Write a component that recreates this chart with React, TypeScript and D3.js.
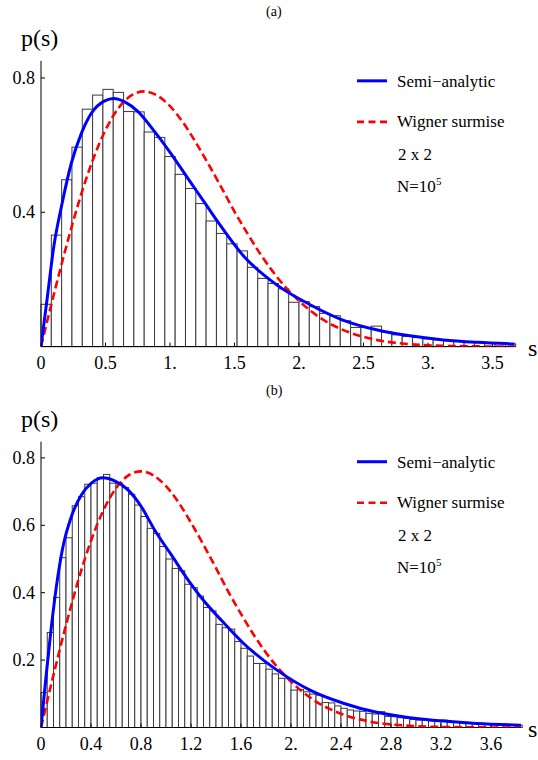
import * as d3 from "d3";

// panel (a): bins of 0.08
const binWidthA = 0.08;
const histA = [
  0.126, 0.332, 0.497, 0.594, 0.707, 0.749, 0.766, 0.757, 0.7, 0.699,
  0.639, 0.623, 0.566, 0.513, 0.471, 0.426, 0.374, 0.337, 0.306, 0.285,
  0.236, 0.203, 0.188, 0.172, 0.132, 0.134, 0.119, 0.099, 0.092, 0.077,
  0.057, 0.057, 0.061, 0.044, 0.035, 0.03, 0.027, 0.023, 0.02, 0.018,
  0.015, 0.013, 0.012, 0.01, 0.009, 0.008,
];
const semiSA = [0, 0.05, 0.1, 0.16, 0.235, 0.313, 0.39, 0.494, 0.566, 0.649, 0.752, 0.881, 1.01, 1.14, 1.27, 1.37, 1.57, 1.83, 2.09, 2.34, 2.6, 2.86, 3.12, 3.38, 3.67];
const semiPA = [0, 0.15, 0.3, 0.42, 0.546, 0.635, 0.695, 0.732, 0.739, 0.729, 0.7, 0.64, 0.573, 0.5, 0.428, 0.372, 0.27, 0.183, 0.124, 0.079, 0.05, 0.032, 0.02, 0.013, 0.008];
const xTicksA = [0, 0.5, 1, 1.5, 2, 2.5, 3, 3.5];
const xLabelsA = ["0", "0.5", "1.", "1.5", "2.", "2.5", "3.", "3.5"];
const yTicksA = [0.4, 0.8];
const yLabelsA = ["0.4", "0.8"];

// panel (b): bins of 0.05
const binWidthB = 0.05;
const histB = [
  0.104, 0.282, 0.386, 0.504, 0.563, 0.658, 0.685, 0.722, 0.725, 0.741,
  0.751, 0.725, 0.726, 0.712, 0.692, 0.66, 0.626, 0.591, 0.576, 0.537,
  0.5, 0.472, 0.465, 0.425, 0.415, 0.39, 0.356, 0.346, 0.306, 0.296,
  0.292, 0.255, 0.235, 0.212, 0.19, 0.19, 0.173, 0.159, 0.146, 0.146,
  0.111, 0.113, 0.106, 0.099, 0.096, 0.074, 0.073, 0.064, 0.057, 0.052,
  0.049, 0.048, 0.042, 0.04, 0.047, 0.033, 0.032, 0.029, 0.027, 0.024,
  0.022, 0.022, 0.02, 0.019, 0.022, 0.016, 0.015, 0.014, 0.013, 0.012,
  0.011, 0.011, 0.01, 0.009, 0.008, 0.008, 0.007,
];
const semiSB = [0, 0.043, 0.083, 0.123, 0.176, 0.243, 0.323, 0.403, 0.496, 0.589, 0.696, 0.803, 0.909, 1.043, 1.176, 1.309, 1.416, 1.619, 1.885, 2.152, 2.419, 2.685, 2.952, 3.219, 3.485, 3.84];
const semiPB = [0, 0.161, 0.299, 0.418, 0.537, 0.626, 0.69, 0.725, 0.741, 0.732, 0.705, 0.655, 0.586, 0.512, 0.438, 0.373, 0.329, 0.25, 0.171, 0.111, 0.072, 0.045, 0.029, 0.019, 0.012, 0.007];
const xTicksB = [0, 0.4, 0.8, 1.2, 1.6, 2, 2.4, 2.8, 3.2, 3.6];
const xLabelsB = ["0", "0.4", "0.8", "1.2", "1.6", "2.", "2.4", "2.8", "3.2", "3.6"];
const yTicksB = [0.2, 0.4, 0.6, 0.8];
const yLabelsB = ["0.2", "0.4", "0.6", "0.8"];

// Wigner surmise, same in both panels
const wignerS = [0, 0.1, 0.2, 0.3, 0.4, 0.5, 0.6, 0.7, 0.8, 0.9, 1.0, 1.1, 1.2, 1.3, 1.4, 1.5, 1.6, 1.7, 1.8, 1.9, 2.0, 2.2, 2.4, 2.6, 2.8, 3.0, 3.3, 3.6, 3.9];
const wignerP = [0, 0.156, 0.304, 0.439, 0.554, 0.645, 0.71, 0.748, 0.76, 0.748, 0.716, 0.668, 0.608, 0.542, 0.473, 0.402, 0.337, 0.276, 0.222, 0.175, 0.136, 0.077, 0.041, 0.02, 0.009, 0.004, 0.001, 0.0002, 0];

const legendLabels = ["Semi\u2212analytic", "Wigner surmise"];
const sizeNote = "2 x 2";

const FONT = "Liberation Serif, Tinos, Times New Roman, DejaVu Serif, serif";

type PanelProps = {
  id: string;
  title: string;
  top: number;
  hist: number[];
  binWidth: number;
  semiS: number[];
  semiP: number[];
  xTicks: number[];
  xLabels: string[];
  yTicks: number[];
  yLabels: string[];
  sMax: number;
  pMax: number;
  baseY: number;
  pxPerS: number;
  pxPerP: number;
};

function Panel(props: PanelProps) {
  const { id, title, top, hist, binWidth, semiS, semiP, xTicks, xLabels, yTicks, yLabels, sMax, pMax, baseY, pxPerS, pxPerP } = props;
  const x0 = 41;
  const x = d3.scaleLinear().domain([0, sMax]).range([x0, x0 + pxPerS * sMax]);
  const y = d3.scaleLinear().domain([0, pMax]).range([baseY, baseY - pxPerP * pMax]);

  const line = d3
    .line<[number, number]>()
    .x((d) => x(d[0]))
    .y((d) => y(d[1]))
    .curve(d3.curveMonotoneX);

  const semiPts = semiS.map((s, i) => [s, semiP[i]] as [number, number]);
  const wigPts = wignerS.map((s, i) => [s, wignerP[i]] as [number, number]);

  const legX = 357;
  const legY = y(pMax) + 20;
  const txt = { fontFamily: FONT };

  return (
    <g style={txt}>
      <defs>
        <clipPath id={id}>
          <rect x={x0} y={y(pMax) - 5} width={x(sMax) - x0} height={baseY - y(pMax) + 5} />
        </clipPath>
      </defs>
      <text x={266} y={top} fontSize={14} style={txt}>{title}</text>
      <text x={21} y={y(pMax) - 15} fontSize={24} style={txt}>p(s)</text>

      {/* histogram */}
      {hist.map((v, i) => (
        <rect
          key={i}
          x={x(i * binWidth)}
          y={y(v)}
          width={x((i + 1) * binWidth) - x(i * binWidth)}
          height={baseY - y(v)}
          fill="#fff"
          stroke="#3a3a3a"
          strokeWidth={1}
        />
      ))}

      {/* axes */}
      <line x1={x0} x2={x0} y1={y(pMax)} y2={baseY} stroke="#000" strokeWidth={1} />
      <line x1={x0} x2={x(sMax)} y1={baseY} y2={baseY} stroke="#000" strokeWidth={1} />
      {yTicks.map((t, i) => (
        <g key={"y" + i}>
          <line x1={x0} x2={x0 + 4} y1={y(t)} y2={y(t)} stroke="#000" />
          <text x={35} y={y(t) + 6} fontSize={18} textAnchor="end" style={txt}>{yLabels[i]}</text>
        </g>
      ))}
      {xTicks.map((t, i) => (
        <g key={"x" + i}>
          <line x1={x(t)} x2={x(t)} y1={baseY} y2={baseY - 4} stroke="#000" />
          <text x={x(t)} y={baseY + 22.5} fontSize={18} textAnchor="middle" style={txt}>{xLabels[i]}</text>
        </g>
      ))}
      <text x={528} y={baseY + 9} fontSize={24} style={txt}>s</text>

      {/* curves */}
      <g clipPath={`url(#${id})`}>
        <path d={line(wigPts) || ""} fill="none" stroke="#ff0000" strokeWidth={2.6} strokeDasharray="8,4" />
        <path d={line(semiPts) || ""} fill="none" stroke="#0000ff" strokeWidth={3} />
      </g>

      {/* legend */}
      <line x1={legX} x2={legX + 30} y1={legY} y2={legY} stroke="#0000ff" strokeWidth={3} />
      <text x={397} y={legY + 6} fontSize={17} style={txt}>{legendLabels[0]}</text>
      <line x1={legX} x2={legX + 30} y1={legY + 41} y2={legY + 41} stroke="#ff0000" strokeWidth={2.6} strokeDasharray="7,4.5" />
      <text x={397} y={legY + 46} fontSize={17} style={txt}>{legendLabels[1]}</text>
      <text x={398} y={legY + 79} fontSize={17} style={txt}>{sizeNote}</text>
      <text x={397} y={legY + 111} fontSize={17} style={txt}>
        N=10<tspan dy={-7} fontSize={11}>5</tspan>
      </text>
    </g>
  );
}

export default function App() {
  return (
    <svg
      width={538}
      height={760}
      style={{ position: "absolute", left: 0, top: 0, background: "#fff", fontFamily: FONT }}
    >
      <rect width={538} height={760} fill="#fff" />
      <Panel
        id="clipA"
        title="(a)"
        top={16}
        hist={histA}
        binWidth={binWidthA}
        semiS={semiSA}
        semiP={semiPA}
        xTicks={xTicksA}
        xLabels={xLabelsA}
        yTicks={yTicksA}
        yLabels={yLabelsA}
        sMax={3.674}
        pMax={0.851}
        baseY={346.6}
        pxPerS={129}
        pxPerP={335.8}
      />
      <Panel
        id="clipB"
        title="(b)"
        top={395}
        hist={histB}
        binWidth={binWidthB}
        semiS={semiSB}
        semiP={semiPB}
        xTicks={xTicksB}
        xLabels={xLabelsB}
        yTicks={yTicksB}
        yLabels={yLabelsB}
        sMax={3.84}
        pMax={0.848}
        baseY={727.5}
        pxPerS={125}
        pxPerP={337}
      />
    </svg>
  );
}
